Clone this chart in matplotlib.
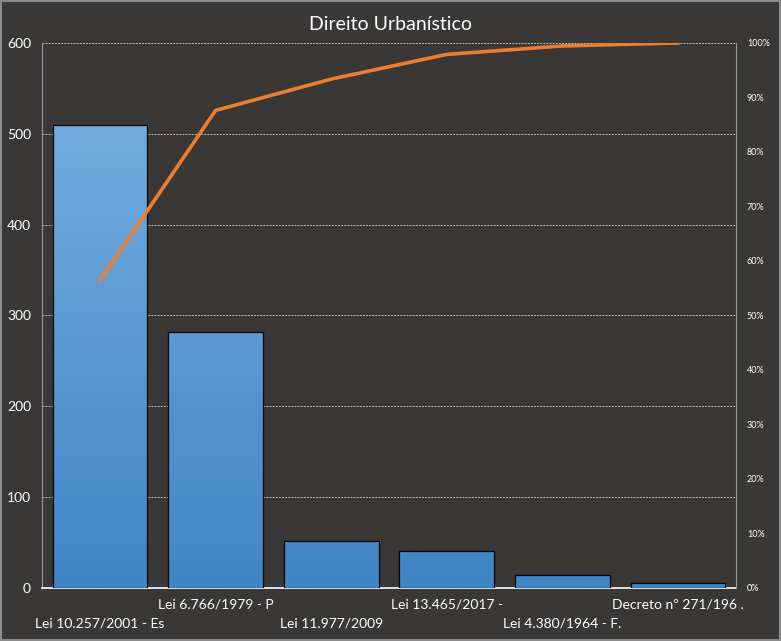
import numpy as np
import matplotlib.pyplot as plt
from matplotlib.ticker import PercentFormatter
from matplotlib.patches import Rectangle
from matplotlib.colors import LinearSegmentedColormap

plt.rcParams['font.family'] = ['Lato', 'DejaVu Sans']

# données
categories = ["Lei 10.257/2001 - Es", "Lei 6.766/1979 - P", "Lei 11.977/2009",
              "Lei 13.465/2017 -", "Lei 4.380/1964 - F.", "Decreto nº 271/196 ."]
valeurs = [510, 282, 52, 41, 14, 5]

cumul = np.cumsum(valeurs) / np.sum(valeurs) * 100

fond = "#3a3836"
fig = plt.figure(figsize=(7.81, 6.41), dpi=100, facecolor=fond)
ax = fig.add_axes([0.054, 0.083, 0.888, 0.85])
ax.set_facecolor(fond)

x = np.arange(len(categories))
barres = ax.bar(x, valeurs, width=0.82, color="#5b9bd5", edgecolor="black", linewidth=0.9, zorder=3)

# dégradé vertical commun à toutes les barres (de 0 jusqu'au max)
grad = np.linspace(0, 1, 256).reshape(-1, 1)
cmap = LinearSegmentedColormap.from_list("b", ["#72aade", "#3f86c6"])
for b in barres:
    x0 = b.get_x()
    im = ax.imshow(grad, extent=[x0, x0 + b.get_width(), 0, max(valeurs)],
                   aspect="auto", cmap=cmap, origin="upper", zorder=3)
    im.set_clip_path(b)
    b.set_facecolor("none")
    b.set_zorder(4)

ax.set_xlim(-0.5, len(categories) - 0.5)
ax.set_ylim(0, 600)
ax.set_yticks(range(0, 601, 100))
ax.yaxis.grid(True, color="#bdbdbd", linestyle=(0, (2, 1.2)), linewidth=0.7, zorder=0)
ax.tick_params(axis="y", colors="white", labelsize=10, length=0, pad=8)
ax.set_xticks(x)
ax.set_xticklabels([])
ax.tick_params(axis="x", length=0)
for s in ["top", "right"]:
    ax.spines[s].set_visible(False)
ax.spines["left"].set_color("#9a9a9a")
ax.spines["bottom"].set_color("white")
ax.spines["bottom"].set_linewidth(1.2)

# étiquettes en quinconce
for i, lab in enumerate(categories):
    dy = -0.03 if i % 2 == 1 else -0.065
    ax.text(i, dy, lab, transform=ax.get_xaxis_transform(), ha="center", va="center",
            color="white", fontsize=10)

ax2 = ax.twinx()
ax2.plot(x, cumul, color="#ed7d31", linewidth=2.6, zorder=5)
ax2.set_ylim(0, 100)
ax2.set_yticks(range(0, 101, 10))
ax2.yaxis.set_major_formatter(PercentFormatter(decimals=0))
ax2.tick_params(axis="y", colors="white", labelsize=6.5, length=0, pad=8)
for s in ["top", "left", "bottom"]:
    ax2.spines[s].set_visible(False)
ax2.spines["right"].set_color("#9a9a9a")

fig.suptitle("Direito Urbanístico", color="white", fontsize=14, y=0.975)
fig.patches.append(Rectangle((0.001, 0.001), 0.998, 0.998, transform=fig.transFigure,
                             fill=False, edgecolor="#8a8a8a", linewidth=1.5))

plt.savefig("out.png", dpi=100, facecolor=fond)
